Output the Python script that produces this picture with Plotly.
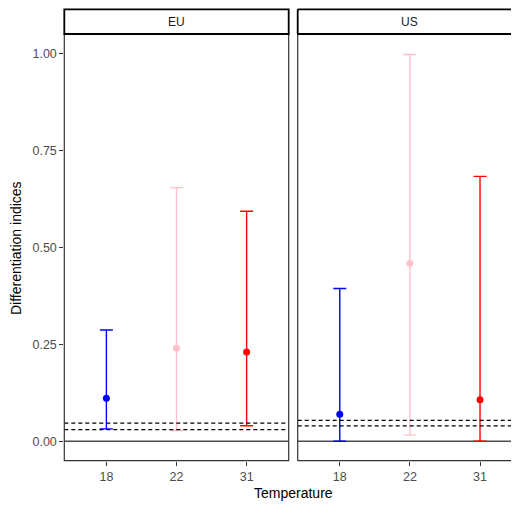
import plotly.graph_objects as go

temps = ["18", "22", "31"]
colors = ["blue", "pink", "red"]
regions = ["EU", "US"]
eu_mean = [0.111, 0.240, 0.230]
eu_low = [0.032, 0.028, 0.040]
eu_high = [0.287, 0.654, 0.593]
us_mean = [0.070, 0.459, 0.107]
us_low = [0.000, 0.016, 0.000]
us_high = [0.394, 0.997, 0.683]
eu_thresholds = [0.030, 0.047]
us_thresholds = [0.040, 0.054]

OFF = 8  # page body margin
PW, PH = 519, 505  # visible page size
W, H = PW - OFF, PH - OFF
px = lambda v: (v - OFF) / W
py = lambda v: (H - (v - OFF)) / H

eu_dom = [px(64.3), px(288.7)]
us_dom = [px(297.7), 1.0]
y_dom = [py(460.7), py(34)]
unit = (288.7 - 64.3) / 3.2
us_right = 0.4 + (PW - 297.7) / unit
us_center = px(297.7 + 224.4 / 2)

fig = go.Figure()
data = [(eu_mean, eu_low, eu_high, "x", "y"), (us_mean, us_low, us_high, "x2", "y2")]
for mean, low, high, xa, ya in data:
    for i, t in enumerate(temps):
        fig.add_trace(go.Scatter(
            x=[i + 1], y=[mean[i]], mode="markers", xaxis=xa, yaxis=ya,
            marker=dict(color=colors[i], size=7),
            error_y=dict(type="data", symmetric=False,
                         array=[high[i] - mean[i]], arrayminus=[mean[i] - low[i]],
                         color=colors[i], thickness=1.4, width=6.5),
            showlegend=False, hoverinfo="skip"))

shapes = []
for xa, ya, th in [("x", "y", eu_thresholds), ("x2", "y2", us_thresholds)]:
    shapes.append(dict(type="line", xref=xa + " domain", yref=ya, x0=0, x1=1, y0=0, y1=0,
                       line=dict(color="#4d4d4d", width=1.4), layer="below"))
    for v in th:
        shapes.append(dict(type="line", xref=xa + " domain", yref=ya, x0=0, x1=1, y0=v, y1=v,
                           line=dict(color="black", width=1.3, dash="4px,3px")))

bx = "#333333"
s_top, s_bot = py(9.3), py(34)
shapes.append(dict(type="rect", xref="paper", yref="paper", x0=eu_dom[0], x1=eu_dom[1],
                   y0=y_dom[0], y1=y_dom[1], line=dict(color=bx, width=1.2)))
shapes.append(dict(type="rect", xref="paper", yref="paper", x0=eu_dom[0], x1=eu_dom[1],
                   y0=s_bot, y1=s_top, line=dict(color="black", width=1.8), fillcolor="white"))
for (x0, y0, x1, y1) in [(us_dom[0], y_dom[0], us_dom[0], y_dom[1]),
                         (us_dom[0], y_dom[0], 1.0, y_dom[0]),
                         (us_dom[0], y_dom[1], 1.0, y_dom[1])]:
    shapes.append(dict(type="line", xref="paper", yref="paper", x0=x0, x1=x1, y0=y0, y1=y1,
                       line=dict(color=bx, width=1.2)))
for (x0, y0, x1, y1) in [(us_dom[0], s_bot, us_dom[0], s_top),
                         (us_dom[0], s_top, 1.0, s_top),
                         (us_dom[0], s_bot, 1.0, s_bot)]:
    shapes.append(dict(type="line", xref="paper", yref="paper", x0=x0, x1=x1, y0=y0, y1=y1,
                       line=dict(color="black", width=1.8)))

annotations = []
for cx, name in zip(((eu_dom[0] + eu_dom[1]) / 2, us_center), regions):
    annotations.append(dict(text=name, x=cx, y=py(21.7), xref="paper",
                            yref="paper", xanchor="center", yanchor="middle", showarrow=False,
                            font=dict(size=12, color="#1a1a1a")))
annotations += [
    dict(text="Temperature", x=px(293), y=py(493), xref="paper", yref="paper",
         xanchor="center", yanchor="middle",
         showarrow=False, font=dict(size=14, color="black")),
    dict(text="Differentiation indices", x=px(16), y=py(248), xref="paper", yref="paper",
         xanchor="center", yanchor="middle",
         showarrow=False, textangle=-90, font=dict(size=14, color="black")),
]

common_x = dict(tickmode="array", tickvals=[1, 2, 3], ticktext=temps, showgrid=False,
                zeroline=False, showline=False, ticks="outside", ticklen=4, tickcolor="#333333",
                tickfont=dict(size=12.5, color="#4d4d4d"), fixedrange=True)
fig.update_layout(
    width=W, height=H, margin=dict(l=0, r=0, t=0, b=0),
    paper_bgcolor="white", plot_bgcolor="white",
    font=dict(family="Liberation Sans, Arial, sans-serif"),
    xaxis=dict(domain=eu_dom, anchor="y", range=[0.4, 3.6], **common_x),
    xaxis2=dict(domain=us_dom, anchor="y2", range=[0.4, us_right], **common_x),
    yaxis=dict(domain=y_dom, range=[-0.05, 1.05], anchor="x", tickvals=[0, 0.25, 0.5, 0.75, 1.0],
               ticktext=["0.00", "0.25", "0.50", "0.75", "1.00"], showgrid=False, zeroline=False,
               ticks="outside", ticklen=4, tickcolor="#333333",
               tickfont=dict(size=12.5, color="#4d4d4d"), fixedrange=True),
    yaxis2=dict(domain=y_dom, range=[-0.05, 1.05], anchor="x2", showticklabels=False,
                showgrid=False, zeroline=False, ticks="", fixedrange=True),
    shapes=shapes, annotations=annotations,
)
fig.write_html("out.html", post_script="document.body.style.overflow='hidden';")
